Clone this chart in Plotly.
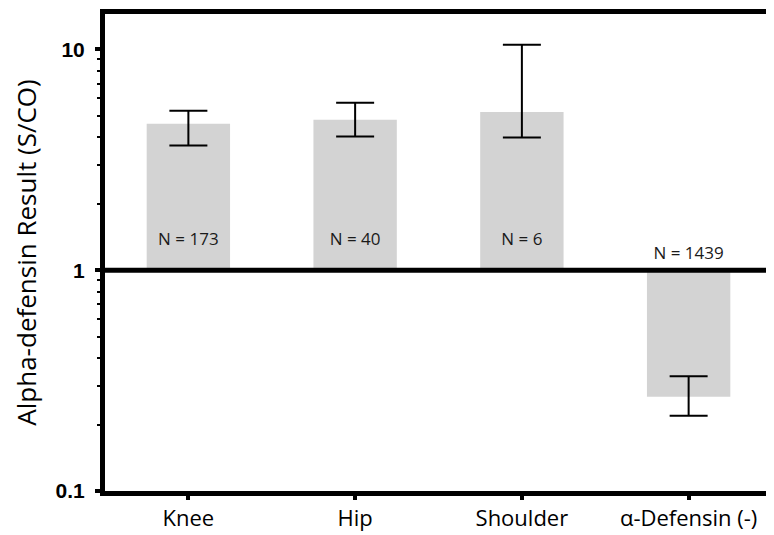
import plotly.graph_objects as go
import numpy as np

categories = ["Knee", "Hip", "Shoulder", "\u03b1-Defensin (-)"]
means = [4.6, 4.8, 5.2, 0.267]
err_upper = [5.27, 5.73, 10.5, 0.331]
err_lower = [3.67, 4.03, 3.99, 0.219]
n_labels = ["N = 173", "N = 40", "N = 6", "N = 1439"]
n_label_y = [1.36, 1.36, 1.36, 1.18]
baseline = 1.0

means_a = np.array(means)
up = np.array(err_upper) - means_a
dn = means_a - np.array(err_lower)

font_main = "Open Sans, Lato, sans-serif"

fig = go.Figure()
fig.add_trace(go.Bar(
    x=categories,
    y=means_a - baseline,
    base=[baseline] * len(categories),
    width=0.5,
    marker=dict(color="#d3d3d3", line=dict(width=0)),
    showlegend=False,
))
fig.add_trace(go.Scatter(
    x=categories,
    y=means,
    mode="markers",
    marker=dict(size=1, color="rgba(0,0,0,0)"),
    error_y=dict(type="data", symmetric=False, array=up, arrayminus=dn,
                 color="black", thickness=2, width=19),
    showlegend=False,
))
fig.add_trace(go.Scatter(
    x=categories,
    y=n_label_y,
    mode="text",
    text=n_labels,
    textposition="middle center",
    textfont=dict(family=font_main, size=17, color="#1a1a1a"),
    showlegend=False,
))

fig.add_shape(type="line", xref="paper", yref="y", x0=0, x1=1, y0=baseline, y1=baseline,
              line=dict(color="black", width=5))

fig.update_layout(
    width=774, height=535,
    margin=dict(l=97, r=10, t=1, b=52),
    paper_bgcolor="white", plot_bgcolor="white",
)
fig.update_xaxes(
    range=[-0.5, 3.5],
    showline=True, linecolor="black", linewidth=5, mirror=True,
    ticks="outside", ticklen=4, tickwidth=4, tickcolor="black",
    tickfont=dict(family=font_main, size=22, color="black"),
    showgrid=False, zeroline=False,
)
fig.update_yaxes(
    type="log", range=[-1, 1.16],
    tickvals=[0.1, 1, 10], ticktext=["0.1", "1", "10"],
    showline=True, linecolor="black", linewidth=5, mirror=True,
    ticks="outside", ticklen=5, tickwidth=4, tickcolor="black",
    ticklabelstandoff=6,
    tickfont=dict(family="Liberation Sans, Arial, sans-serif", size=21, color="black", weight="bold"),
    minor=dict(tickvals=[0.2, 0.3, 0.4, 0.5, 0.6, 0.7, 0.8, 0.9, 2, 3, 4, 5, 6, 7, 8, 9],
               ticks="outside", ticklen=3, tickwidth=2, tickcolor="black", showgrid=False),
    showgrid=False, zeroline=False,
    title=dict(text="Alpha-defensin Result (S/CO)", font=dict(family=font_main, size=26, color="black"),
               standoff=24),
)

fig.write_html("out.html")
